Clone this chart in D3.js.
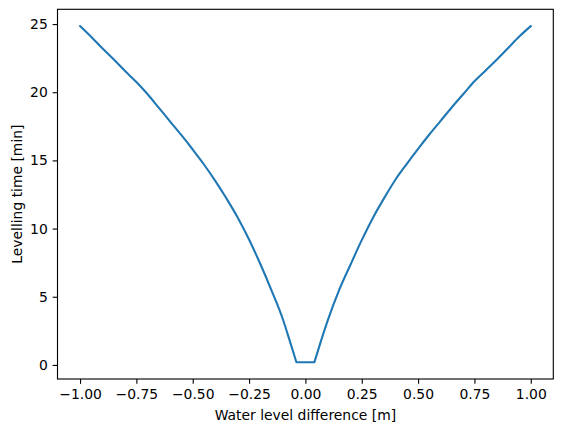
<!DOCTYPE html>
<html><head><meta charset="utf-8">
<script src="https://cdn.jsdelivr.net/npm/d3@7"></script>
<style>body{margin:0;background:#fff}svg{display:block}text{font-family:"DejaVu Sans",sans-serif}</style>
</head><body>
<svg id="c" width="562" height="432"></svg>
<script>
const waterDiff = [-1.00,-0.95,-0.90,-0.85,-0.80,-0.75,-0.70,-0.65,-0.60,-0.55,-0.50,-0.45,-0.40,-0.35,-0.30,-0.25,-0.20,-0.15,-0.10,-0.07,-0.04,
  0.04,0.07,0.10,0.15,0.20,0.25,0.30,0.35,0.40,0.45,0.50,0.55,0.60,0.65,0.70,0.75,0.80,0.85,0.90,0.95,1.00];
const levelTime = [24.85,24.05,23.2,22.4,21.55,20.75,19.85,18.85,17.85,16.85,15.8,14.7,13.5,12.2,10.8,9.2,7.4,5.45,3.35,1.8,0.2,
  0.2,1.8,3.3,5.5,7.35,9.15,10.8,12.25,13.6,14.75,15.85,16.9,17.9,18.9,19.85,20.8,21.6,22.4,23.25,24.1,24.85];
const xTicks = [-1.0,-0.75,-0.5,-0.25,0,0.25,0.5,0.75,1.0];
const yTicks = [0,5,10,15,20,25];
const xLabel = "Water level difference [m]";
const yLabel = "Levelling time [min]";

const FS = 13.9, TK = 4.86, LW = 1.11;
const L=57.5, R=553.3, T=9.3, B=379;
const svg = d3.select("#c");
const x = d3.scaleLinear().domain([-1.1,1.1]).range([L,R]);
const y = d3.scaleLinear().domain([-1.0325,26.0825]).range([B,T]);
const fmtX = d => d3.format(".2f")(d).replace("-", "\u2212");

const gx = svg.append("g").attr("transform",`translate(0,${B})`)
  .call(d3.axisBottom(x).tickValues(xTicks).tickFormat(fmtX).tickSize(TK).tickPadding(TK));
const gy = svg.append("g").attr("transform",`translate(${L},0)`)
  .call(d3.axisLeft(y).tickValues(yTicks).tickFormat(d3.format("d")).tickSize(TK).tickPadding(TK));
[gx,gy].forEach(g=>{
  g.select(".domain").remove();
  g.selectAll("line").attr("stroke","#000").attr("stroke-width",LW);
  g.selectAll("text").attr("font-size",FS).attr("fill","#000").attr("font-family","DejaVu Sans");
});

const pts = waterDiff.map((d,i)=>[d,levelTime[i]]);
const leftPts = pts.filter(p=>p[0]<=-0.04);
const rightPts = pts.filter(p=>p[0]>=0.04);
const curved = d3.line().x(d=>x(d[0])).y(d=>y(d[1])).curve(d3.curveMonotoneX);
const straight = d3.line().x(d=>x(d[0])).y(d=>y(d[1]));
const flat = [leftPts[leftPts.length-1], rightPts[0]];
const dStr = curved(leftPts) + straight(flat).replace(/^M/,"L") + curved(rightPts).replace(/^M/,"L");

svg.append("path")
  .attr("fill","none").attr("stroke","#1f77b4").attr("stroke-width",2.08)
  .attr("stroke-linejoin","round").attr("stroke-linecap","square")
  .attr("d", dStr);

svg.append("rect").attr("x",L).attr("y",T).attr("width",R-L).attr("height",B-T)
  .attr("fill","none").attr("stroke","#000").attr("stroke-width",LW);

svg.append("text").attr("x",(L+R)/2).attr("y",420).attr("text-anchor","middle")
  .attr("font-size",FS).attr("fill","#000").text(xLabel);
svg.append("text").attr("transform",`translate(22,${(T+B)/2}) rotate(-90)`).attr("text-anchor","middle")
  .attr("font-size",FS).attr("fill","#000").text(yLabel);
</script>
</body></html>
